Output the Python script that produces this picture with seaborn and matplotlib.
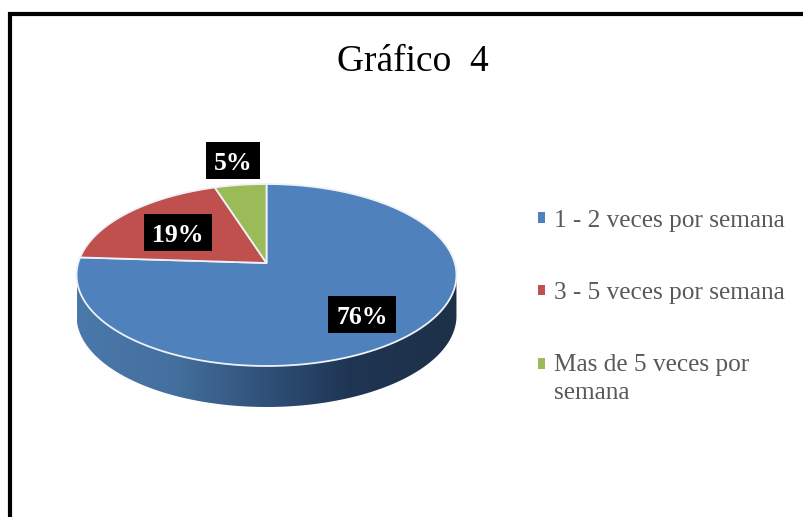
import numpy as np
import matplotlib
matplotlib.use("Agg")
import matplotlib.pyplot as plt
import seaborn as sns
from matplotlib.path import Path
from matplotlib.patches import PathPatch, Rectangle
from matplotlib.transforms import Transform, Affine2D
from matplotlib.colors import LinearSegmentedColormap

categories = ["1 - 2 veces por semana", "3 - 5 veces por semana", "Mas de 5 veces por\nsemana"]
values = [76, 19, 5]
slice_colors = ["#4F81BD", "#C0504D", "#9BBB59"]
title_text = "Gráfico  4"

sns.set_theme(style="white")
plt.rcParams["font.family"] = ["Liberation Serif", "DejaVu Serif"]
palette = sns.color_palette(slice_colors)

CX, CY, A, B, K, DEPTH = 266.5, 263.0, 188.3, 89.4, 0.132, 41.0


class Tilt(Transform):
    input_dims = output_dims = 2

    def transform_non_affine(self, xy):
        xy = np.asarray(xy, dtype=float)
        d = 1 + K * xy[:, 1]
        return np.column_stack([CX + A * xy[:, 0] / d, CY - B * xy[:, 1] / d])

    def transform_path_non_affine(self, path):
        big = path.transformed(Affine2D().scale(400))
        poly = np.vstack(big.to_polygons(closed_only=True)) / 400
        return Path(self.transform_non_affine(poly), closed=True)


fig = plt.figure(figsize=(8.04, 5.17), dpi=100, facecolor="white")
ax = fig.add_axes([0, 0, 1, 1])
wedges, _ = ax.pie(values, colors=palette, startangle=90, counterclock=False, radius=1,
                   wedgeprops=dict(edgecolor="#eef2f8", linewidth=1.3, zorder=3), frame=False)
ax.set_aspect("auto")
ax.axis("off")

tilt = Tilt()
for w in wedges:
    w.set_transform(tilt + ax.transData)

# side wall of the disc
t = np.radians(np.linspace(0, 360, 721))
rim = tilt.transform_non_affine(np.column_stack([np.cos(t), np.sin(t)]))
left, right = rim[:, 0].argmin(), rim[:, 0].argmax()
lower = rim[np.argsort(rim[:, 0])]
lower = lower[lower[:, 1] >= min(rim[left, 1], rim[right, 1]) - 1e-6]
wall_low = lower + [0, DEPTH]
wall = Path(np.vstack([wall_low, lower[::-1], wall_low[:1]]), closed=True)
cmap = LinearSegmentedColormap.from_list(
    "wall", [(0, "#4a78aa"), (0.25, "#44709f"), (0.5, "#2f5078"), (0.72, "#1f3553"), (1, "#1d3047")])
im = ax.imshow(np.linspace(0, 1, 256)[None, :], cmap=cmap, aspect="auto", zorder=2,
               extent=(rim[left, 0], rim[right, 0], 420, 250), interpolation="bilinear")
clip = PathPatch(wall, transform=ax.transData, facecolor="none", edgecolor="none")
ax.add_patch(clip)
im.set_clip_path(clip)
ax.set_xlim(0, 804)
ax.set_ylim(517, 0)

# frame
ax.plot([10, 10, 804], [517, 14, 14], color="black", lw=3.0, zorder=5, solid_joinstyle="miter")

ax.text(413, 62, title_text, ha="center", va="center", fontsize=27, color="black")

label_boxes = [(328, 296, 68, 37), (144, 214, 68, 37), (206, 142, 54, 37)]
for v, (x, y, bw, bh) in zip(values, label_boxes):
    ax.add_patch(Rectangle((x, y), bw, bh, facecolor="black", edgecolor="none", zorder=6))
    ax.text(x + bw / 2, y + bh / 2 + 9.5, f"{v}%", ha="center", va="baseline", color="white",
            fontsize=18.5, fontweight="bold", zorder=7)

leg = ax.legend(wedges, categories, loc="upper left", bbox_to_anchor=(538 / 804, 1 - 210 / 517),
                frameon=False, fontsize=18.2, labelcolor="#595959", labelspacing=1.98,
                handlelength=0.28, handleheight=0.28, handletextpad=0.34, borderpad=0,
                borderaxespad=0)
for h in leg.legend_handles:
    h.set_edgecolor("none")
leg.get_texts()[2].set_linespacing(1.35)
leg.legend_handles[2].set_y(leg.legend_handles[2].get_y() + 11)

fig.savefig("out.png", dpi=100, facecolor="white")
